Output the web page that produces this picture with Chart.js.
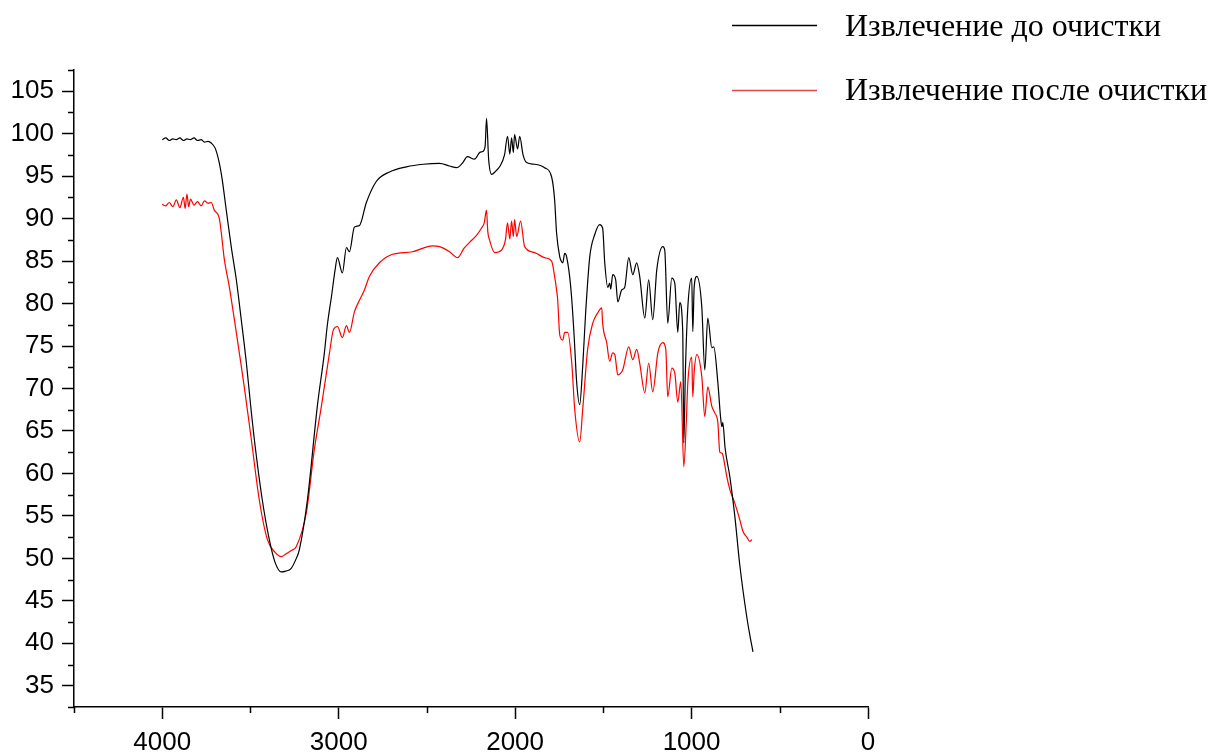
<!DOCTYPE html>
<html>
<head>
<meta charset="utf-8">
<script src="https://cdn.jsdelivr.net/npm/chart.js@4.4.1/dist/chart.umd.min.js"></script>
<style>
  html, body { margin: 0; padding: 0; background: #fff; }
  canvas { display: block; }
</style>
</head>
<body>
<canvas id="chart-ir" width="1213" height="754"></canvas>
<script>
// серии: волновое число (см-1) и пропускание (%)
const seriesNames = ["Извлечение до очистки", "Извлечение после очистки"];

const beforeWn = [4000, 3980, 3960, 3940, 3920, 3900, 3880, 3860, 3840, 3820, 3800, 3780, 3760, 3740, 3722, 3700, 3677, 3660, 3637, 3609, 3580, 3552, 3523, 3495, 3478, 3433, 3393, 3360, 3325, 3300, 3270, 3240, 3223, 3177, 3121, 3081, 3064, 3041, 3020, 3007, 2979, 2956, 2939, 2911, 2882, 2843, 2786, 2712, 2616, 2520, 2428, 2372, 2332, 2300, 2270, 2230, 2200, 2184, 2170, 2162, 2150, 2133, 2110, 2088, 2060, 2043, 2030, 2020, 2010, 2003, 1986, 1974, 1955, 1935, 1889, 1833, 1793, 1776, 1765, 1747, 1736, 1730, 1719, 1713, 1708, 1691, 1679, 1665, 1651, 1634, 1617, 1600, 1577, 1549, 1521, 1504, 1492, 1475, 1464, 1458, 1447, 1430, 1418, 1396, 1379, 1356, 1333, 1311, 1294, 1265, 1243, 1220, 1197, 1163, 1152, 1135, 1112, 1095, 1078, 1067, 1050, 1044, 1035, 1021, 999, 993, 985, 970, 942, 925, 908, 885, 874, 851, 835, 828, 823, 810, 783, 755, 726, 687, 670, 652];
const beforeT = [99.3, 99.5, 99.2, 99.4, 99.3, 99.5, 99.2, 99.4, 99.3, 99.5, 99.2, 99.3, 99.0, 99.1, 98.9, 98.3, 96.6, 94.6, 91.0, 86.7, 82.8, 78.1, 73.0, 67.2, 64.0, 56.9, 52.2, 49.5, 48.4, 48.5, 48.8, 50.0, 51.0, 56.9, 67.9, 74.2, 77.5, 80.8, 84.0, 85.4, 83.6, 86.6, 86.1, 89.0, 89.2, 91.9, 94.4, 95.5, 96.1, 96.4, 96.5, 96.2, 96.0, 96.5, 97.3, 97.0, 97.8, 97.9, 98.5, 101.8, 97.0, 95.2, 95.6, 96.1, 97.5, 99.7, 97.6, 99.5, 97.8, 99.9, 98.2, 99.7, 97.5, 96.6, 96.4, 96.0, 94.9, 92.2, 88.3, 85.5, 84.9, 84.8, 85.9, 85.8, 85.5, 83.2, 80.5, 76.0, 70.7, 68.1, 72.6, 79.0, 85.5, 88.1, 89.3, 88.9, 84.8, 81.9, 82.4, 81.7, 83.4, 82.8, 80.2, 81.6, 81.9, 85.4, 83.4, 84.8, 83.2, 78.3, 82.8, 78.1, 84.0, 86.7, 86.3, 77.7, 83.0, 82.4, 76.6, 80.1, 76.7, 63.6, 72.0, 79.6, 83.0, 76.7, 82.0, 83.2, 79.6, 72.2, 78.3, 74.8, 74.9, 70.7, 66.5, 65.5, 66.0, 63.0, 59.6, 55.0, 49.1, 43.1, 41.0, 39.0];

const afterWn = [4000, 3980, 3960, 3940, 3920, 3900, 3880, 3870, 3860, 3850, 3840, 3820, 3800, 3780, 3760, 3740, 3722, 3705, 3677, 3665, 3648, 3620, 3591, 3563, 3535, 3495, 3450, 3404, 3360, 3325, 3300, 3270, 3240, 3183, 3138, 3098, 3052, 3030, 3007, 2979, 2956, 2939, 2911, 2882, 2854, 2826, 2769, 2695, 2582, 2468, 2428, 2372, 2326, 2290, 2258, 2220, 2190, 2175, 2162, 2155, 2145, 2116, 2077, 2055, 2043, 2030, 2020, 2010, 2003, 1991, 1969, 1946, 1889, 1833, 1793, 1776, 1765, 1759, 1747, 1730, 1719, 1702, 1679, 1662, 1634, 1617, 1589, 1560, 1532, 1509, 1504, 1481, 1464, 1447, 1435, 1418, 1390, 1356, 1333, 1311, 1294, 1265, 1243, 1220, 1191, 1163, 1146, 1135, 1112, 1095, 1078, 1061, 1044, 1030, 1021, 999, 993, 985, 970, 942, 925, 908, 885, 868, 851, 840, 828, 823, 800, 783, 755, 726, 709, 687, 670, 658];
const afterT = [91.7, 91.5, 91.9, 91.4, 92.2, 91.3, 92.5, 91.2, 92.9, 91.4, 92.3, 91.6, 92.0, 91.5, 92.1, 91.8, 91.9, 91.0, 90.1, 88.3, 85.2, 82.0, 78.1, 74.2, 70.2, 64.0, 56.9, 52.2, 50.7, 50.2, 50.5, 50.9, 51.4, 55.4, 62.8, 67.9, 74.2, 76.9, 77.3, 76.0, 77.4, 76.6, 79.0, 80.4, 81.6, 83.2, 84.8, 85.8, 86.1, 86.8, 86.7, 86.1, 85.4, 86.5, 87.2, 88.0, 88.9, 89.5, 91.0, 88.5, 87.5, 86.0, 86.3, 87.5, 89.5, 87.6, 89.7, 87.9, 89.9, 87.9, 89.7, 86.7, 86.0, 85.4, 85.0, 83.2, 81.6, 80.5, 76.3, 75.7, 76.6, 76.6, 73.0, 67.5, 63.7, 67.5, 74.6, 77.7, 78.9, 79.5, 77.7, 75.4, 73.2, 74.2, 74.0, 71.6, 72.2, 74.9, 73.4, 74.6, 73.0, 69.5, 73.0, 69.6, 74.2, 75.4, 74.6, 69.0, 72.4, 71.8, 68.4, 70.8, 60.8, 66.0, 70.7, 73.7, 69.0, 72.0, 74.0, 71.4, 66.7, 70.2, 67.9, 67.1, 66.0, 62.5, 62.4, 62.2, 59.6, 58.1, 56.5, 54.5, 53.2, 52.5, 52.0, 52.2];

const xMajor = [4000, 3000, 2000, 1000, 0];
const xMinor = [4500, 3500, 2500, 1500, 500];
const yMajor = [35, 40, 45, 50, 55, 60, 65, 70, 75, 80, 85, 90, 95, 100, 105];
const yMinor = [32.5, 37.5, 42.5, 47.5, 52.5, 57.5, 62.5, 67.5, 72.5, 77.5, 82.5, 87.5, 92.5, 97.5, 102.5, 107.5];

const tickFont = { family: '"Liberation Sans", Arial, sans-serif', size: 26 };

function toPoints(xs, ys) {
  return xs.map((x, i) => ({ x: x, y: ys[i] }));
}

// малые засечки на осях
const minorTicks = {
  id: "minorTicks",
  afterDraw(chart) {
    const ctx = chart.ctx;
    const xs = chart.scales.x;
    const ys = chart.scales.y;
    ctx.save();
    ctx.strokeStyle = "#000";
    ctx.lineWidth = 1.5;
    ctx.beginPath();
    xMinor.forEach((v) => {
      const px = Math.round(xs.getPixelForValue(v)) + 0.5;
      ctx.moveTo(px, xs.top);
      ctx.lineTo(px, xs.top + 6);
    });
    yMinor.forEach((v) => {
      const py = Math.round(ys.getPixelForValue(v)) + 0.5;
      ctx.moveTo(ys.right, py);
      ctx.lineTo(ys.right - 6, py);
    });
    ctx.stroke();
    ctx.restore();
  },
};

// легенда справа сверху
const sideLegend = {
  id: "sideLegend",
  afterDraw(chart) {
    const ctx = chart.ctx;
    const rows = [
      { name: seriesNames[0], color: "#000", lineY: 25.5, textY: 36 },
      { name: seriesNames[1], color: "#dd4b4b", lineY: 90.5, textY: 100 },
    ];
    ctx.save();
    ctx.font = '32px "Liberation Serif", "Times New Roman", serif';
    ctx.textBaseline = "alphabetic";
    ctx.textAlign = "left";
    rows.forEach((r) => {
      ctx.strokeStyle = r.color;
      ctx.lineWidth = 1.5;
      ctx.beginPath();
      ctx.moveTo(732, r.lineY);
      ctx.lineTo(817, r.lineY);
      ctx.stroke();
      ctx.fillStyle = "#000";
      ctx.fillText(r.name, 845, r.textY);
    });
    ctx.restore();
  },
};

new Chart(document.getElementById("chart-ir"), {
  type: "line",
  data: {
    datasets: [
      {
        label: seriesNames[0],
        data: toPoints(beforeWn, beforeT),
        borderColor: "#000",
        borderWidth: 1.2,
        pointRadius: 0,
        cubicInterpolationMode: "monotone",
      },
      {
        label: seriesNames[1],
        data: toPoints(afterWn, afterT),
        borderColor: "#ff0000",
        borderWidth: 1.2,
        pointRadius: 0,
        cubicInterpolationMode: "monotone",
      },
    ],
  },
  options: {
    responsive: false,
    animation: false,
    layout: { padding: { top: 70, right: 345, left: 0, bottom: 0 } },
    scales: {
      x: {
        type: "linear",
        reverse: true,
        min: 0,
        max: 4500,
        afterBuildTicks: (s) => { s.ticks = xMajor.map((v) => ({ value: v })); },
        afterFit: (s) => { s.height = 47; },
        border: { display: true, color: "#000", width: 1.5 },
        grid: { drawOnChartArea: false, drawTicks: true, tickLength: 12, tickColor: "#000", tickWidth: 1.5 },
        ticks: { color: "#000", font: tickFont, padding: 8, maxRotation: 0, callback: (v) => String(v) },
      },
      y: {
        min: 32.5,
        max: 107.5,
        afterBuildTicks: (s) => { s.ticks = yMajor.map((v) => ({ value: v })); },
        afterFit: (s) => { s.width = 74; },
        border: { display: true, color: "#000", width: 1.5 },
        grid: { drawOnChartArea: false, drawTicks: true, tickLength: 12, tickColor: "#000", tickWidth: 1.5 },
        ticks: { color: "#000", font: tickFont, padding: 8 },
      },
    },
    plugins: {
      legend: { display: false },
      tooltip: { enabled: false },
    },
  },
  plugins: [minorTicks, sideLegend],
});
</script>
</body>
</html>
